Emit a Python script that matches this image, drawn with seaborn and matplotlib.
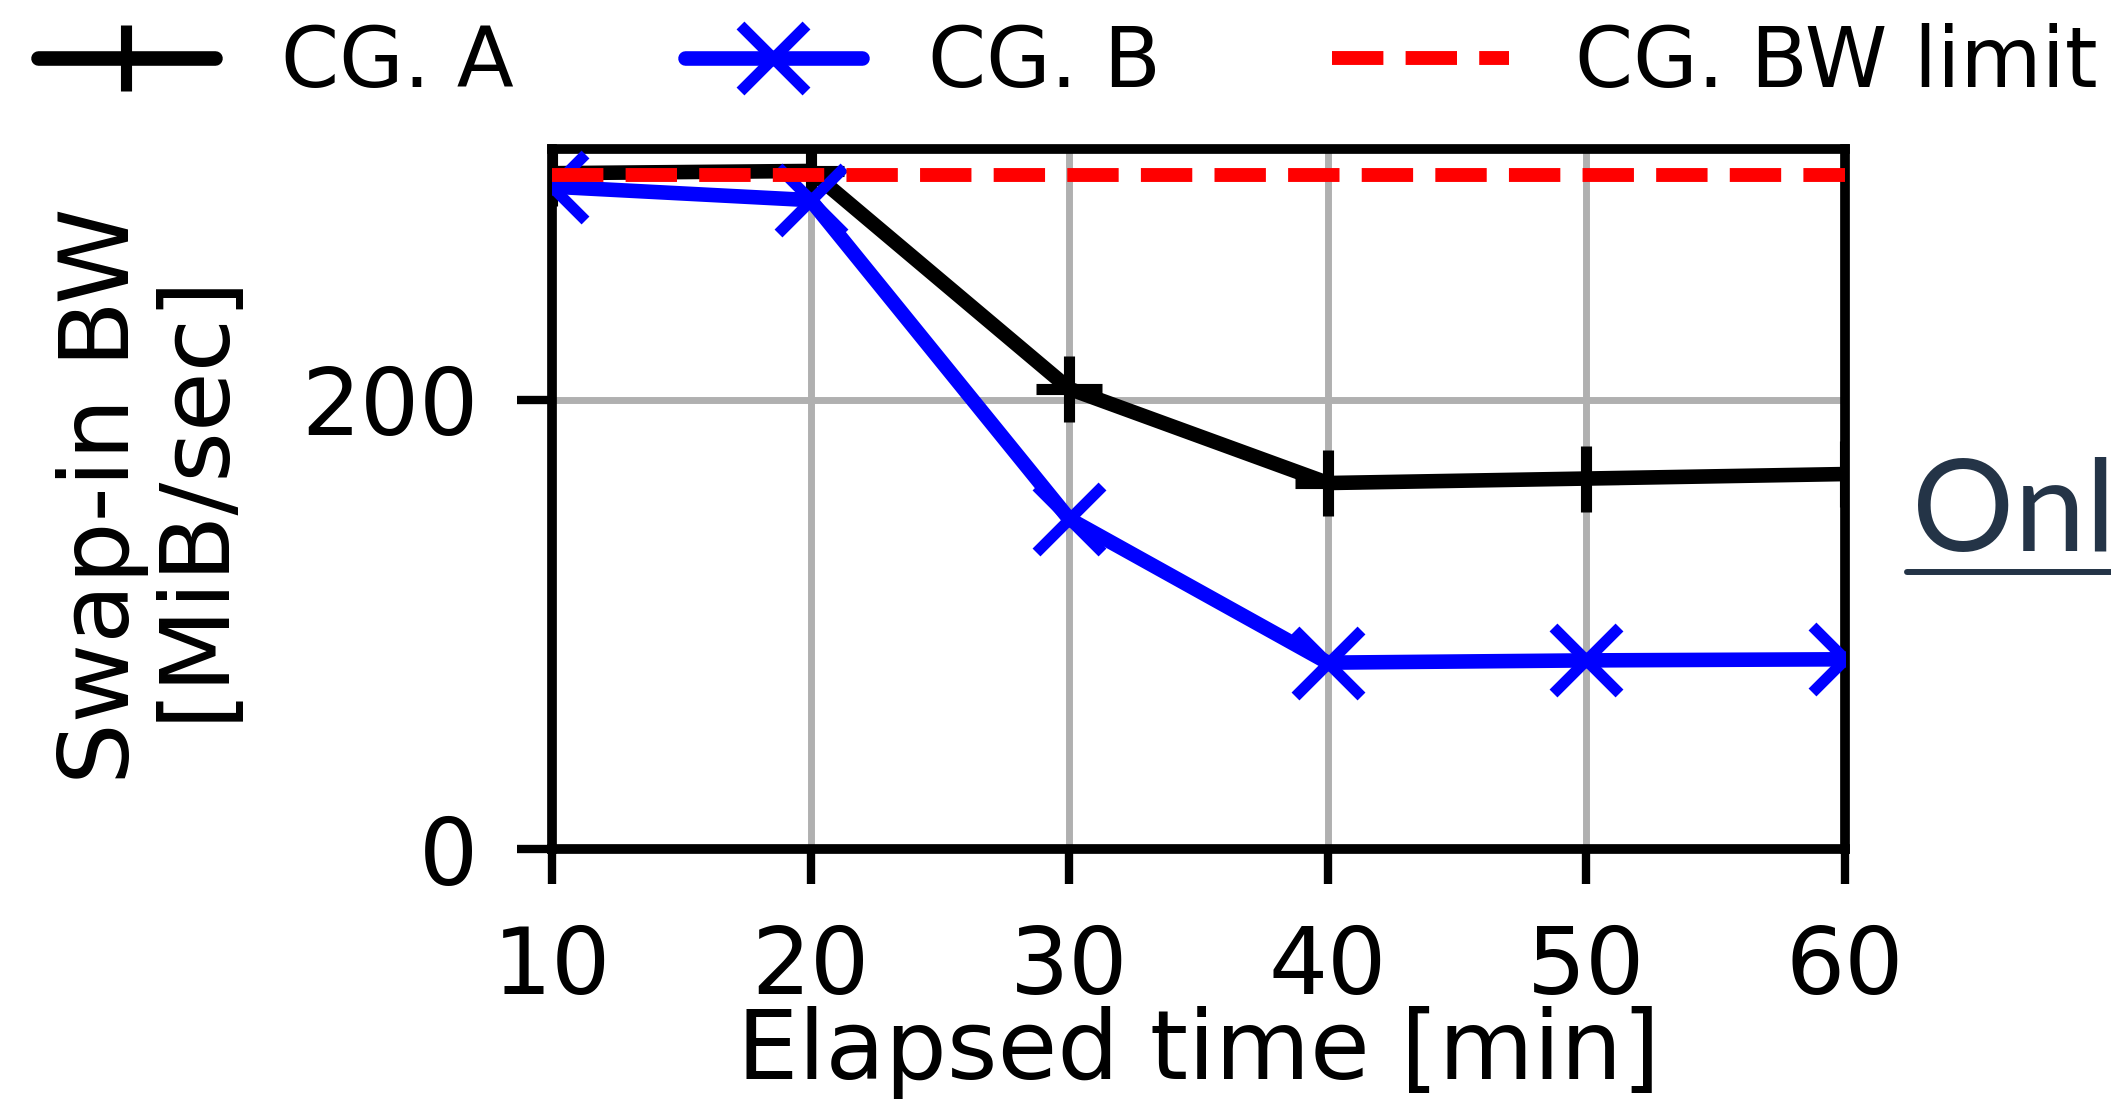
import matplotlib
matplotlib.use('Agg')
import matplotlib.pyplot as plt
import seaborn as sns
from matplotlib.lines import Line2D

# ---- data ----
elapsed_min = [10, 20, 30, 40, 50, 60]
cg_a = [301, 302, 205, 163, 165, 167]
cg_b = [295, 289, 147, 83, 84, 84.5]
bw_limit = 300
series_labels = ['CG. A', 'CG. B', 'CG. BW limit']
x_ticks = [10, 20, 30, 40, 50, 60]
y_ticks = [0, 200]
x_label = 'Elapsed time [min]'
y_label = 'Swap-in BW\n[MiB/sec]'
side_text = 'Onl'

sns.set_theme(style='white')
plt.rcParams['font.family'] = ['DejaVu Sans']
plt.rcParams['text.color'] = 'black'
plt.rcParams['axes.labelcolor'] = 'black'

W, H = 2111, 1105
fig = plt.figure(figsize=(W / 100, H / 100), dpi=100)
L, R, B, T = 552 / W, 1845 / W, 1 - 849 / H, 1 - 148.5 / H
ax = fig.add_axes([L, B, R - L, T - B])

LW = 10.5
MS = 47
MEW = 8

sns.lineplot(x=elapsed_min, y=cg_a, ax=ax, color='black', marker='+',
             markersize=MS, markeredgewidth=MEW, markeredgecolor='black',
             linewidth=LW, label=series_labels[0], zorder=3)
sns.lineplot(x=elapsed_min, y=cg_b, ax=ax, color='blue', marker='x',
             markersize=MS, markeredgewidth=MEW, markeredgecolor='blue',
             linewidth=LW, label=series_labels[1], zorder=3)
ax.axhline(bw_limit, color='red', linestyle='--', linewidth=10,
           label=series_labels[2], zorder=4)

ax.set_xlim(10, 60)
ax.set_ylim(0, 312)
ax.set_xticks(x_ticks)
ax.set_yticks(y_ticks)
ax.grid(True, color='#b0b0b0', linewidth=5)
ax.set_axisbelow(True)
for s in ax.spines.values():
    s.set_visible(True)
    s.set_color('black')
    s.set_linewidth(7)
ax.tick_params(bottom=True, left=True, direction='out', length=25, width=6,
               pad=28, labelsize=67, colors='black')

ax.set_xlabel(x_label, fontsize=70, color='black', labelpad=-5)
ax.set_ylabel(y_label, fontsize=70, color='black', va='center',
              linespacing=1.0)
ax.yaxis.set_label_coords(-0.3117, 0.504)

handles, labels = ax.get_legend_handles_labels()
ax.get_legend().remove()
fig.legend(handles, labels, loc='center left',
           bbox_to_anchor=(38 / W, 1 - 64 / H), ncol=3, frameon=False,
           fontsize=60, borderpad=0, borderaxespad=0,
           handlelength=2.12, handletextpad=0.8, columnspacing=2.05)

fig.text(1912 / W, 1 - 551 / H, side_text, fontsize=92, family='Lato',
         color='#243447', ha='left', va='baseline')
fig.add_artist(Line2D([1907 / W, 1.0], [1 - 572 / H] * 2, color='#243447',
                      linewidth=4.3, transform=fig.transFigure))

fig.savefig('out.png', dpi=100, facecolor='white')
